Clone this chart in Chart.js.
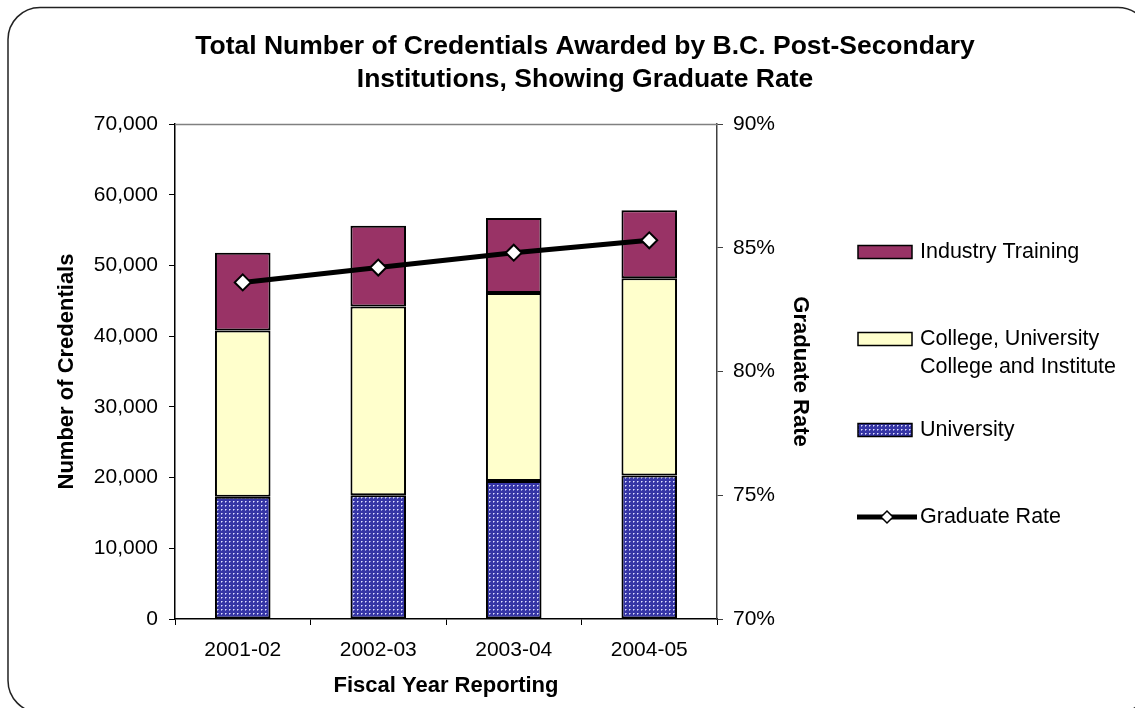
<!DOCTYPE html>
<html>
<head>
<meta charset="utf-8">
<script src="https://cdn.jsdelivr.net/npm/chart.js@4.4.1/dist/chart.umd.min.js"></script>
<style>
  html, body { margin: 0; padding: 0; background: #fff; }
  #wrap { width: 1135px; height: 708px; position: relative; }
</style>
</head>
<body>
<div id="wrap"><canvas id="graphCanvas"></canvas></div>
<script>
// chart data
var years = ['2001-02', '2002-03', '2003-04', '2004-05'];
var university = [17300, 17500, 19500, 20300];
var college = [23500, 26700, 26600, 27900];
var industry = [11000, 11400, 10600, 9600];
var gradRate = [83.6, 84.2, 84.8, 85.3];

var leftTicks = [0, 10000, 20000, 30000, 40000, 50000, 60000, 70000];
var rightTicks = [70, 75, 80, 85, 90];

var titleLines = ['Total Number of Credentials Awarded by B.C. Post-Secondary', 'Institutions, Showing Graduate Rate'];
var collegeLegend = ['College, University', 'College and Institute'];

Chart.defaults.font.family = "'Liberation Sans', Arial, sans-serif";
Chart.defaults.color = '#000';

// dotted navy fill for the university bars
function dotPattern() {
  var c = document.createElement('canvas');
  c.width = 4; c.height = 4;
  var g = c.getContext('2d');
  g.fillStyle = '#3535a5';
  g.fillRect(0, 0, 4, 4);
  g.fillStyle = '#e0e0ff';
  g.fillRect(1, 1, 1, 1);
  g.fillStyle = '#9090d8';
  g.fillRect(2, 1, 1, 1);
  g.fillRect(1, 2, 1, 1);
  return g.createPattern(c, 'repeat');
}
var navyDots = dotPattern();

// frame, title, plot border and right hand legend
var decor = {
  id: 'decor',
  beforeDraw: function(chart) {
    var ctx = chart.ctx;
    ctx.save();
    ctx.fillStyle = '#fff';
    ctx.fillRect(0, 0, chart.width, chart.height);
    ctx.strokeStyle = '#222';
    ctx.lineWidth = 1.5;
    ctx.beginPath();
    ctx.roundRect(8, 7.5, 1142, 705, 32);
    ctx.stroke();

    ctx.fillStyle = '#000';
    ctx.font = "bold 26.5px 'Liberation Sans', Arial, sans-serif";
    ctx.textAlign = 'center';
    ctx.textBaseline = 'middle';
    titleLines.forEach(function(t, i) {
      ctx.fillText(t, 585, 47 + i * 33);
    });
    ctx.restore();
  },
  afterDraw: function(chart) {
    var ctx = chart.ctx;
    var a = chart.chartArea;
    ctx.save();
    ctx.strokeStyle = '#808080';
    ctx.lineWidth = 1.5;
    ctx.beginPath();
    ctx.moveTo(a.left, a.top + 0.5);
    ctx.lineTo(a.right, a.top + 0.5);
    ctx.stroke();

    var ds = chart.data.datasets;
    var bx = 858, bw = 54, bh = 13, tx = 920;
    ctx.font = "21.5px 'Liberation Sans', Arial, sans-serif";
    ctx.textBaseline = 'middle';
    ctx.fillStyle = '#000';
    var items = [
      { d: ds[2], y: 252, lines: [ds[2].label] },
      { d: ds[1], y: 339, lines: collegeLegend },
      { d: ds[0], y: 430, lines: [ds[0].label] }
    ];
    items.forEach(function(it) {
      ctx.fillStyle = it.d.backgroundColor;
      ctx.fillRect(bx, it.y - bh / 2, bw, bh);
      ctx.strokeStyle = '#000';
      ctx.lineWidth = 1.5;
      ctx.strokeRect(bx, it.y - bh / 2, bw, bh);
      ctx.fillStyle = '#000';
      it.lines.forEach(function(t, i) {
        ctx.fillText(t, tx, it.y + i * 28);
      });
    });
    // line entry
    var ly = 517;
    ctx.strokeStyle = '#000';
    ctx.lineWidth = 5;
    ctx.beginPath();
    ctx.moveTo(857, ly);
    ctx.lineTo(917, ly);
    ctx.stroke();
    ctx.fillStyle = '#fff';
    ctx.lineWidth = 1.5;
    ctx.beginPath();
    ctx.moveTo(881, ly);
    ctx.lineTo(887, ly - 6);
    ctx.lineTo(893, ly);
    ctx.lineTo(887, ly + 6);
    ctx.closePath();
    ctx.fill();
    ctx.stroke();
    ctx.fillStyle = '#000';
    ctx.fillText(ds[3].label, tx, ly);
    ctx.restore();
  }
};

var ctx = document.getElementById('graphCanvas');

var data = {
  labels: years,
  datasets: [
    {
      type: 'bar',
      label: 'University',
      data: university,
      backgroundColor: navyDots,
      borderColor: '#000',
      borderWidth: 2,
      borderSkipped: false,
      order: 1
    },
    {
      type: 'bar',
      label: 'College, University College and Institute',
      data: college,
      backgroundColor: '#ffffcc',
      borderColor: '#000',
      borderWidth: 2,
      borderSkipped: false,
      order: 1
    },
    {
      type: 'bar',
      label: 'Industry Training',
      data: industry,
      backgroundColor: '#993366',
      borderColor: '#000',
      borderWidth: 2,
      borderSkipped: false,
      order: 1
    },
    {
      type: 'line',
      label: 'Graduate Rate',
      data: gradRate,
      yAxisID: 'y1',
      borderColor: '#000',
      borderWidth: 5,
      tension: 0,
      pointStyle: 'rectRot',
      pointRadius: 8,
      pointBackgroundColor: '#fff',
      pointBorderColor: '#000',
      pointBorderWidth: 2,
      order: 0
    }
  ]
};

var options = {
  responsive: true,
  maintainAspectRatio: false,
  animation: false,
  layout: { padding: { left: 50, right: 322, top: 124, bottom: 0 } },
  datasets: { bar: { barPercentage: 0.41, categoryPercentage: 1 } },
  plugins: {
    legend: { display: false },
    tooltip: { enabled: false },
    title: { display: false }
  },
  scales: {
    x: {
      stacked: true,
      grid: { drawOnChartArea: false, drawTicks: true, tickLength: 6, color: '#000' },
      border: { color: '#000', width: 1.5 },
      ticks: { font: { size: 21 }, padding: 13, color: '#000' },
      title: { display: true, text: 'Fiscal Year Reporting', font: { size: 22, weight: 'bold' }, padding: { top: 0, bottom: 9 }, color: '#000' },
      afterFit: function(s) { s.height = 89; }
    },
    y: {
      stacked: true,
      min: leftTicks[0],
      max: leftTicks[leftTicks.length - 1],
      afterBuildTicks: function(s) { s.ticks = leftTicks.map(function(v) { return { value: v }; }); },
      grid: { drawOnChartArea: false, tickLength: 6, color: '#000' },
      border: { color: '#000', width: 1.5 },
      ticks: {
        font: { size: 21 }, padding: 11, color: '#000',
        callback: function(v) { return v.toString().replace(/\B(?=(\d{3})+(?!\d))/g, ','); }
      },
      title: { display: true, text: 'Number of Credentials', font: { size: 22, weight: 'bold' }, padding: { top: 4, bottom: 0 }, color: '#000' },
      afterFit: function(s) { s.width = 125; }
    },
    y1: {
      position: 'right',
      min: rightTicks[0],
      max: rightTicks[rightTicks.length - 1],
      afterBuildTicks: function(s) { s.ticks = rightTicks.map(function(v) { return { value: v }; }); },
      grid: { drawOnChartArea: false, tickLength: 6, color: '#404040' },
      border: { color: '#404040', width: 1.5 },
      ticks: {
        font: { size: 21 }, padding: 10, color: '#000',
        callback: function(v) { return v + '%'; }
      },
      title: { display: true, text: 'Graduate Rate', font: { size: 22, weight: 'bold' }, padding: { top: 0, bottom: 0 }, color: '#000' },
      afterFit: function(s) { s.width = 96; }
    }
  }
};

var chart = new Chart(ctx, {
  data: data,
  options: options,
  plugins: [decor]
});
</script>
</body>
</html>
